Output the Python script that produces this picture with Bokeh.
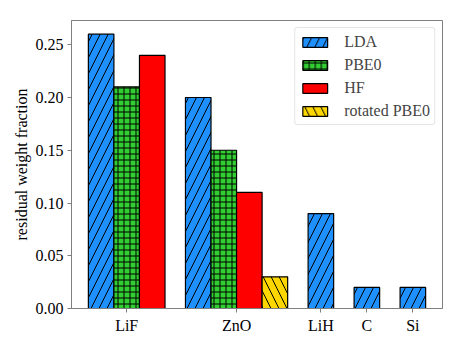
from bokeh.plotting import figure
from bokeh.models import Range1d, FixedTicker, NumeralTickFormatter, ColumnDataSource
from bokeh.embed import file_html
from bokeh.resources import INLINE

# ---- data ----
systems = ["LiF", "ZnO", "LiH", "C", "Si"]
methods = ["LDA", "PBE0", "HF", "rotated PBE0"]
lda = [0.26, 0.20, 0.09, 0.02, 0.02]
pbe0 = [0.21, 0.15, None, None, None]
hf = [0.24, 0.11, None, None, None]
rot_pbe0 = [None, 0.03, None, None, None]
yticks = [0.0, 0.05, 0.10, 0.15, 0.20, 0.25]

series = [lda, pbe0, hf, rot_pbe0]
colors = ["#1E90FF", "#32CD32", "#FF0000", "#FFD700"]
hatches = ["/", "+", " ", "\\"]
hscale = [16, 6, 10, 16]

GAP = 0.8
# compute bar positions: bars within a group are adjacent, fixed gap between groups
pos = {m: ([], []) for m in methods}
group_centers = []
cur = 0.0
for gi, s in enumerate(systems):
    xs = []
    for mi, m in enumerate(methods):
        v = series[mi][gi]
        if v is not None:
            pos[m][0].append(cur)
            pos[m][1].append(v)
            xs.append(cur)
            cur += 1.0
    group_centers.append(sum(xs) / len(xs))
    cur += GAP
left = -0.5
right = cur - GAP - 0.5
pad = 0.05 * (right - left)

FONT = "Liberation Serif"
FS = "16px"
GRAY = "#7f7f7f"

p = figure(width=455, height=339, output_backend="svg", toolbar_location=None,
           x_range=Range1d(left - pad, right + pad), y_range=Range1d(0, 0.273),
           min_border_left=71, min_border_right=13, min_border_top=20, min_border_bottom=31)

for mi, m in enumerate(methods):
    src = ColumnDataSource(dict(x=pos[m][0], top=pos[m][1]))
    p.vbar(x="x", top="top", bottom=0, width=1.0, source=src,
           fill_color=colors[mi], line_color="black", line_width=1.2,
           hatch_pattern=hatches[mi], hatch_color="black", hatch_scale=hscale[mi],
           hatch_weight=1, legend_label=m)

p.xgrid.visible = False
p.ygrid.visible = False
p.outline_line_color = GRAY
p.outline_line_width = 1

p.xaxis.ticker = FixedTicker(ticks=group_centers)
p.xaxis.major_label_overrides = {c: s for c, s in zip(group_centers, systems)}
p.yaxis.ticker = FixedTicker(ticks=yticks)
p.yaxis.formatter = NumeralTickFormatter(format="0.00")
p.yaxis.axis_label = "residual weight fraction"

for ax in (p.xaxis[0], p.yaxis[0]):
    ax.axis_line_color = GRAY
    ax.major_tick_line_color = GRAY
    ax.major_tick_in = 0
    ax.major_tick_out = 4
    ax.minor_tick_line_color = None
    ax.major_label_text_font = FONT
    ax.major_label_text_font_size = FS
    ax.major_label_text_color = "black"
    ax.major_label_standoff = 4
    ax.axis_label_text_font = FONT
    ax.axis_label_text_font_size = FS
    ax.axis_label_text_font_style = "normal"
    ax.axis_label_text_color = "black"
p.yaxis.axis_label_standoff = 3

lg = p.legend[0]
lg.location = "top_right"
lg.margin = 7
lg.padding = 4
lg.spacing = 4
lg.glyph_width = 31
lg.glyph_height = 12
lg.label_height = 19
lg.label_standoff = 14
lg.label_text_font = FONT
lg.label_text_font_size = FS
lg.border_line_color = "#cccccc"
lg.border_line_width = 1
lg.border_radius = 3
lg.background_fill_alpha = 0.8

open("out.html", "w").write(file_html(p, INLINE))
